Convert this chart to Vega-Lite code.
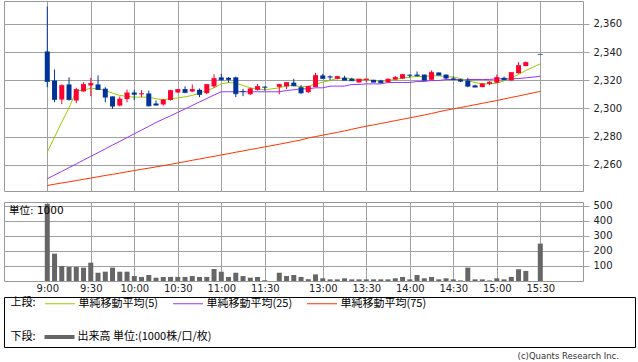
{
  "$schema": "https://vega.github.io/schema/vega-lite/v6.json",
  "background": "white",
  "padding": {"left": 3, "top": 0, "right": 0, "bottom": 0},
  "autosize": {"type": "pad"},
  "datasets": {
    "bars": [
      {"i":0,"o":2340.4,"h":2372.3,"l":2315.1,"c":2319.1,"m5":2269,"m25":2250.1,"m75":2245.3,"v":514},
      {"i":1,"o":2319.8,"h":2327.6,"l":2304.4,"c":2306.3,"m5":2279.6,"m25":2252.7,"m75":2246.2,"v":182},
      {"i":2,"o":2306.3,"h":2317,"l":2303,"c":2316.3,"m5":2290.3,"m25":2255.3,"m75":2247.1,"v":100},
      {"i":3,"o":2317,"h":2322,"l":2305.5,"c":2306.3,"m5":2300.4,"m25":2258,"m75":2247.9,"v":93},
      {"i":4,"o":2305.6,"h":2314.6,"l":2303.7,"c":2313.4,"m5":2312.7,"m25":2260.6,"m75":2248.8,"v":93},
      {"i":5,"o":2312,"h":2318.6,"l":2312,"c":2317,"m5":2312.7,"m25":2263.3,"m75":2249.7,"v":89},
      {"i":6,"o":2316.3,"h":2321.7,"l":2308.7,"c":2317.7,"m5":2314.4,"m25":2266,"m75":2250.6,"v":122},
      {"i":7,"o":2317,"h":2323.4,"l":2313.4,"c":2313.4,"m5":2313.9,"m25":2268.6,"m75":2251.5,"v":55},
      {"i":8,"o":2314,"h":2315,"l":2304.4,"c":2308,"m5":2312.7,"m25":2271.3,"m75":2252.4,"v":62},
      {"i":9,"o":2308.5,"h":2308.5,"l":2299.7,"c":2301.6,"m5":2310.8,"m25":2274,"m75":2253.2,"v":89},
      {"i":10,"o":2302,"h":2308.5,"l":2301.4,"c":2306.6,"m5":2309.2,"m25":2276.6,"m75":2254.1,"v":62},
      {"i":11,"o":2306.6,"h":2313.4,"l":2304.4,"c":2311,"m5":2308.5,"m25":2279.3,"m75":2255,"v":62},
      {"i":12,"o":2311.3,"h":2313.2,"l":2306,"c":2310,"m5":2308,"m25":2282,"m75":2255.9,"v":33},
      {"i":13,"o":2310,"h":2313,"l":2308,"c":2310.5,"m5":2308,"m25":2284.6,"m75":2256.8,"v":27},
      {"i":14,"o":2310.6,"h":2312.7,"l":2301.4,"c":2301.8,"m5":2308,"m25":2287.3,"m75":2257.6,"v":40},
      {"i":15,"o":2303.5,"h":2305.6,"l":2302.3,"c":2302.3,"m5":2306.8,"m25":2290,"m75":2258.5,"v":22},
      {"i":16,"o":2302.8,"h":2306.8,"l":2302,"c":2306,"m5":2306.3,"m25":2292.4,"m75":2259.4,"v":27},
      {"i":17,"o":2306,"h":2313.2,"l":2305.6,"c":2312.7,"m5":2306.8,"m25":2294.7,"m75":2260.3,"v":27},
      {"i":18,"o":2311.3,"h":2313.6,"l":2311.1,"c":2313.4,"m5":2307.5,"m25":2297.2,"m75":2261.3,"v":27},
      {"i":19,"o":2313.7,"h":2315.6,"l":2310.8,"c":2311.3,"m5":2308.2,"m25":2299.6,"m75":2262.2,"v":27},
      {"i":20,"o":2312,"h":2317,"l":2311.5,"c":2313.4,"m5":2309.2,"m25":2302.1,"m75":2263.2,"v":33},
      {"i":21,"o":2313.2,"h":2314.1,"l":2308,"c":2309.9,"m5":2310.8,"m25":2304.6,"m75":2264.1,"v":27},
      {"i":22,"o":2310.8,"h":2317,"l":2310.1,"c":2317,"m5":2312.7,"m25":2307,"m75":2265.1,"v":27},
      {"i":23,"o":2315.6,"h":2324.3,"l":2314.6,"c":2321.2,"m5":2314.6,"m25":2309.5,"m75":2266,"v":80},
      {"i":24,"o":2322,"h":2324.5,"l":2319.6,"c":2320.3,"m5":2317.4,"m25":2311.8,"m75":2267,"v":62},
      {"i":25,"o":2321.7,"h":2322.2,"l":2318.4,"c":2320.5,"m5":2318.4,"m25":2311.8,"m75":2267.9,"v":27},
      {"i":26,"o":2322,"h":2322.6,"l":2308,"c":2310.4,"m5":2317.9,"m25":2311.8,"m75":2268.9,"v":55},
      {"i":27,"o":2312.3,"h":2313.9,"l":2308.7,"c":2312,"m5":2316.3,"m25":2311.8,"m75":2269.8,"v":33},
      {"i":28,"o":2310.1,"h":2314.6,"l":2309.4,"c":2313.9,"m5":2314.6,"m25":2311.8,"m75":2270.8,"v":22},
      {"i":29,"o":2313.2,"h":2317.4,"l":2312.7,"c":2315.6,"m5":2313.7,"m25":2311.8,"m75":2271.7,"v":27},
      {"i":30,"o":2315.4,"h":2315.4,"l":2312.7,"c":2315,"m5":2313.2,"m25":2311.8,"m75":2272.7,"v":5},
      {"i":32,"o":2315.3,"h":2317.4,"l":2310,"c":2317,"m5":2314.6,"m25":2311.8,"m75":2274.6,"v":55},
      {"i":33,"o":2315.6,"h":2318.4,"l":2313.7,"c":2318.4,"m5":2316,"m25":2312.7,"m75":2275.6,"v":33},
      {"i":34,"o":2318.3,"h":2321,"l":2315.8,"c":2316,"m5":2316.3,"m25":2313.2,"m75":2276.6,"v":40},
      {"i":35,"o":2315,"h":2316.5,"l":2310.4,"c":2311,"m5":2315.4,"m25":2313.9,"m75":2277.6,"v":27},
      {"i":36,"o":2311.5,"h":2316,"l":2310.8,"c":2315.6,"m5":2315.6,"m25":2313.9,"m75":2279,"v":12},
      {"i":37,"o":2315.1,"h":2325.3,"l":2315.1,"c":2323.4,"m5":2317.4,"m25":2314.6,"m75":2280,"v":44},
      {"i":38,"o":2323.4,"h":2324.5,"l":2321.2,"c":2321.2,"m5":2318.6,"m25":2314.6,"m75":2281,"v":18},
      {"i":39,"o":2322.6,"h":2323.4,"l":2320,"c":2322.2,"m5":2319.8,"m25":2315.8,"m75":2282,"v":11},
      {"i":40,"o":2321,"h":2323.1,"l":2320.6,"c":2322.6,"m5":2321.2,"m25":2315.8,"m75":2283,"v":11},
      {"i":41,"o":2321.7,"h":2323.1,"l":2320,"c":2320,"m5":2321.7,"m25":2315.8,"m75":2284,"v":18},
      {"i":42,"o":2321,"h":2321.7,"l":2319.6,"c":2319.6,"m5":2321,"m25":2317,"m75":2285.2,"v":11},
      {"i":43,"o":2318.4,"h":2320.8,"l":2318.4,"c":2320.8,"m5":2320.5,"m25":2317,"m75":2286.3,"v":11},
      {"i":44,"o":2320.3,"h":2320.9,"l":2318.8,"c":2320.9,"m5":2320.3,"m25":2317.4,"m75":2287.4,"v":11},
      {"i":45,"o":2320.3,"h":2320.3,"l":2318.6,"c":2318.6,"m5":2319.8,"m25":2317.4,"m75":2288.3,"v":11},
      {"i":46,"o":2319.8,"h":2320.3,"l":2318,"c":2318.2,"m5":2319.3,"m25":2317.4,"m75":2289.3,"v":11},
      {"i":47,"o":2318.6,"h":2321.2,"l":2318.4,"c":2320.8,"m5":2319.8,"m25":2318.4,"m75":2290.3,"v":11},
      {"i":48,"o":2320.5,"h":2323.1,"l":2320.3,"c":2322,"m5":2320.5,"m25":2318.4,"m75":2291.3,"v":18},
      {"i":49,"o":2321.2,"h":2324.5,"l":2320.8,"c":2324,"m5":2321.5,"m25":2318.4,"m75":2292.3,"v":27},
      {"i":50,"o":2323.8,"h":2324,"l":2321.7,"c":2323.5,"m5":2322.2,"m25":2318.4,"m75":2293.3,"v":11},
      {"i":51,"o":2324,"h":2326.2,"l":2323.1,"c":2323.1,"m5":2322.6,"m25":2319.1,"m75":2294.3,"v":40},
      {"i":52,"o":2324,"h":2324,"l":2319.8,"c":2320,"m5":2322.6,"m25":2319.1,"m75":2295.3,"v":18},
      {"i":53,"o":2320.3,"h":2326.9,"l":2320,"c":2325.6,"m5":2323.2,"m25":2319.8,"m75":2296.4,"v":27},
      {"i":54,"o":2325.5,"h":2325.5,"l":2323.6,"c":2323.6,"m5":2323.1,"m25":2319.8,"m75":2297.6,"v":11},
      {"i":55,"o":2324,"h":2324,"l":2320.8,"c":2321.5,"m5":2322.6,"m25":2320.5,"m75":2298.7,"v":18},
      {"i":56,"o":2321.2,"h":2322.6,"l":2320,"c":2320.6,"m5":2322.2,"m25":2320.5,"m75":2299.7,"v":11},
      {"i":57,"o":2320.5,"h":2321,"l":2318.6,"c":2319.3,"m5":2321.2,"m25":2320.5,"m75":2300.6,"v":4},
      {"i":58,"o":2319.8,"h":2321.7,"l":2315,"c":2315.8,"m5":2319.8,"m25":2320.5,"m75":2301.6,"v":89},
      {"i":59,"o":2316.3,"h":2316.8,"l":2315.1,"c":2315.1,"m5":2318.4,"m25":2320.5,"m75":2302.6,"v":11},
      {"i":60,"o":2315.1,"h":2317.9,"l":2315.1,"c":2317.4,"m5":2317.4,"m25":2320.5,"m75":2303.6,"v":11},
      {"i":61,"o":2317.4,"h":2319.3,"l":2316.5,"c":2318.6,"m5":2317.4,"m25":2320.5,"m75":2304.6,"v":4},
      {"i":62,"o":2318.2,"h":2324,"l":2318,"c":2321.9,"m5":2317.9,"m25":2321,"m75":2305.6,"v":18},
      {"i":63,"o":2321.7,"h":2322.6,"l":2320.3,"c":2320.3,"m5":2319.6,"m25":2321,"m75":2306.7,"v":11},
      {"i":64,"o":2319.8,"h":2325.5,"l":2319.8,"c":2325.5,"m5":2321.7,"m25":2321,"m75":2307.8,"v":27},
      {"i":65,"o":2325,"h":2332.8,"l":2324.6,"c":2330.4,"m5":2324,"m25":2321.2,"m75":2308.8,"v":78},
      {"i":66,"o":2330,"h":2333.3,"l":2330,"c":2332.6,"m5":2326.9,"m25":2321.7,"m75":2309.9,"v":67},
      {"i":67,"o":null,"h":null,"l":null,"c":null,"m5":2329.3,"m25":2322.2,"m75":2311,"v":null},
      {"i":68,"o":2338.3,"h":2338.3,"l":2338.3,"c":2338.3,"m5":2331.6,"m25":2322.9,"m75":2312,"v":249}
    ]
  },
  "vconcat": [
    {
      "vconcat": [
        {
          "width": 579,
          "height": 190,
          "data": {"name": "bars"},
          "encoding": {
            "x": {"field": "i", "type": "quantitative", "scale": {"domain": [-5.28, 73.2], "nice": false, "zero": false},
                  "axis": {"values": [0,6,12,18,24,30,38,44,50,56,62,68], "labels": false, "ticks": false, "domain": false, "grid": true, "title": null}}
          },
          "layer": [
            {
              "mark": {"type": "line", "strokeWidth": 1},
              "encoding": {
                "y": {"field": "m75", "type": "quantitative", "scale": {"domain": [2241.4, 2376.2], "nice": false, "zero": false},
                      "axis": {"orient": "right", "values": [2260,2280,2300,2320,2340,2360], "labelExpr": "format(datum.value, ',')", "title": null, "grid": true, "tickSize": 6, "labelPadding": 4}},
                "color": {"datum": "単純移動平均(75)", "type": "nominal",
                          "scale": {"domain": ["単純移動平均(5)", "単純移動平均(25)", "単純移動平均(75)"], "range": ["#99cc00", "#9933ff", "#ff3300"]},
                          "legend": {"orient": "none", "legendX": 6.5, "legendY": 296, "direction": "horizontal", "title": "上段:", "titleOrient": "left", "titleAnchor": "middle", "titleBaseline": "middle", "titlePadding": 17, "symbolType": "M-2.5,0H2.5", "symbolSize": 144, "symbolStrokeWidth": 1, "labelOffset": 12, "columnPadding": 12, "padding": 0}}
              }
            },
            {
              "mark": {"type": "line", "strokeWidth": 1},
              "encoding": {
                "y": {"field": "m25", "type": "quantitative",
                      "axis": {"orient": "right", "values": [2260,2280,2300,2320,2340,2360], "labelExpr": "format(datum.value, ',')", "title": null, "grid": true, "tickSize": 6, "labelPadding": 4}},
                "color": {"datum": "単純移動平均(25)", "type": "nominal"}
              }
            },
            {
              "mark": {"type": "line", "strokeWidth": 1},
              "encoding": {
                "y": {"field": "m5", "type": "quantitative",
                      "axis": {"orient": "right", "values": [2260,2280,2300,2320,2340,2360], "labelExpr": "format(datum.value, ',')", "title": null, "grid": true, "tickSize": 6, "labelPadding": 4}},
                "color": {"datum": "単純移動平均(5)", "type": "nominal"}
              }
            },
            {
              "mark": {"type": "rule", "strokeWidth": 1},
              "encoding": {
                "y": {"field": "l", "type": "quantitative",
                      "axis": {"orient": "right", "values": [2260,2280,2300,2320,2340,2360], "labelExpr": "format(datum.value, ',')", "title": null, "grid": true, "tickSize": 6, "labelPadding": 4}},
                "y2": {"field": "h"},
                "color": {"condition": {"test": "datum.c > datum.o", "value": "#ff0033"}, "value": "#003399"}
              }
            },
            {
              "mark": {"type": "bar", "size": 5},
              "encoding": {
                "y": {"field": "o", "type": "quantitative",
                      "axis": {"orient": "right", "values": [2260,2280,2300,2320,2340,2360], "labelExpr": "format(datum.value, ',')", "title": null, "grid": true, "tickSize": 6, "labelPadding": 4}},
                "y2": {"field": "c"},
                "color": {"condition": {"test": "datum.c > datum.o", "value": "#ff0033"}, "value": "#003399"}
              }
            },
            {
              "mark": {"type": "tick", "orient": "horizontal", "size": 5, "thickness": 1},
              "encoding": {
                "y": {"field": "c", "type": "quantitative",
                      "axis": {"orient": "right", "values": [2260,2280,2300,2320,2340,2360], "labelExpr": "format(datum.value, ',')", "title": null, "grid": true, "tickSize": 6, "labelPadding": 4}},
                "color": {"condition": {"test": "datum.c > datum.o", "value": "#ff0033"}, "value": "#003399"}
              }
            }
          ]
        },
        {
          "width": 579,
          "height": 79,
          "data": {"name": "bars"},
          "title": {"text": "単位: 1000", "anchor": "start", "frame": "group", "orient": "top", "offset": -8.5, "dx": 5, "dy": 12, "baseline": "middle", "font": "DejaVu Sans, Noto Sans CJK JP", "fontSize": 10.5, "fontWeight": "normal", "color": "#000000"},
          "mark": {"type": "bar", "size": 5},
          "encoding": {
            "x": {"field": "i", "type": "quantitative", "scale": {"domain": [-5.28, 73.2], "nice": false, "zero": false},
                  "axis": {"values": [0,6,12,18,24,30,38,44,50,56,62,68], "ticks": false, "domain": false, "grid": true, "title": null, "labelPadding": 2,
                           "labelExpr": "floor((540 + 5 * datum.value + (datum.value > 31 ? 50 : 0)) / 60) + ':' + ((5 * datum.value + (datum.value > 31 ? 50 : 0)) % 60 == 0 ? '00' : '30')"}},
            "y": {"field": "v", "type": "quantitative", "scale": {"domain": [0, 526], "nice": false},
                  "axis": {"orient": "right", "values": [100,200,300,400,500], "title": null, "grid": true, "tickSize": 6, "labelPadding": 4}},
            "fill": {"datum": "出来高 単位:(1000株/口/枚)", "type": "nominal", "scale": {"range": ["#666666"]},
                     "legend": {"orient": "none", "legendX": 6.5, "legendY": 330, "title": "下段:", "titleOrient": "left", "titleAnchor": "middle", "titleBaseline": "middle", "titlePadding": 17, "symbolType": "M-2.5,-0.33H2.5V0.33H-2.5Z", "symbolSize": 144, "symbolStrokeWidth": 0, "labelOffset": 12, "padding": 0}}
          }
        }
      ],
      "spacing": 11,
      "bounds": "flush"
    },
    {
      "width": 631,
      "height": 50,
      "view": {"stroke": "#000000", "strokeWidth": 1, "fill": null},
      "title": {"text": "(c)Quants Research Inc.", "orient": "bottom", "anchor": "end", "frame": "group", "font": "DejaVu Sans", "fontSize": 8.5, "fontWeight": "normal", "color": "#333333", "baseline": "top", "offset": 5, "dx": -16},
      "data": {"values": [{}]},
      "mark": {"type": "rule", "opacity": 0},
      "encoding": {}
    }
  ],
  "spacing": 2,
  "config": {
    "font": "DejaVu Sans, Noto Sans CJK JP",
    "view": {"stroke": "#999999"},
    "axis": {"gridColor": "#a0a0a0", "gridOpacity": 1, "tickColor": "#a0a0a0", "labelFont": "DejaVu Sans", "labelFontSize": 10, "labelColor": "#222222", "domain": false, "labelFlush": false, "labelOverlap": false},
    "legend": {"labelFont": "Noto Sans CJK JP", "labelFontSize": 11, "labelColor": "#000000", "titleFont": "Noto Sans CJK JP", "titleFontSize": 11, "titleFontWeight": "normal", "titleColor": "#000000"}
  }
}
